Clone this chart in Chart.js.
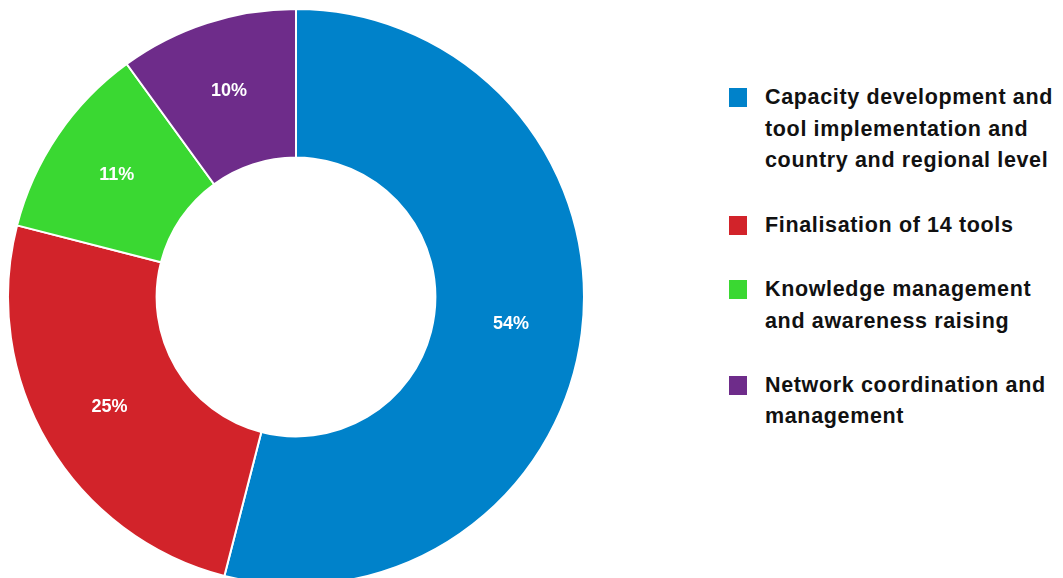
<!DOCTYPE html>
<html>
<head>
<meta charset="utf-8">
<script src="https://cdn.jsdelivr.net/npm/chart.js@4.4.1/dist/chart.umd.min.js"></script>
<style>
  html, body { margin: 0; padding: 0; background: #fff; width: 1063px; height: 578px; overflow: hidden; }
  #wrap { position: absolute; left: 7px; top: 8px; width: 578px; height: 578px; }
  #legend { position: absolute; left: 728px; top: 82px; font-family: "Liberation Sans", Arial, sans-serif; font-weight: bold; font-size: 21.5px; letter-spacing: 0.65px; color: #111; white-space: nowrap; }
  .item { position: relative; padding-left: 37px; line-height: 31.7px; margin-bottom: 32.5px; }
  .sw { position: absolute; left: 1px; top: 6px; width: 18px; height: 19px; }
</style>
</head>
<body>
<div id="wrap"><canvas id="c"></canvas></div>
<div id="legend"></div>
<script>
const categories = [
  ["Capacity development and", "tool implementation and", "country and regional level"],
  ["Finalisation of 14 tools"],
  ["Knowledge management", "and awareness raising"],
  ["Network coordination and", "management"]
];
const values = [54, 25, 11, 10];
const colors = ["#0082CA", "#D2232A", "#3AD832", "#6E2C8A"];

const pctLabels = {
  id: 'pctLabels',
  afterDatasetsDraw(chart) {
    const ctx = chart.ctx;
    const meta = chart.getDatasetMeta(0);
    ctx.save();
    ctx.fillStyle = '#fff';
    ctx.font = 'bold 18px "Liberation Sans", Arial, sans-serif';
    ctx.textAlign = 'center';
    ctx.textBaseline = 'middle';
    meta.data.forEach((arc, i) => {
      const a = (arc.startAngle + arc.endAngle) / 2;
      const r = (arc.innerRadius + arc.outerRadius) / 2 + 3;
      ctx.fillText(values[i] + '%', arc.x + Math.cos(a) * r, arc.y + Math.sin(a) * r);
    });
    ctx.restore();
  }
};

new Chart(document.getElementById('c'), {
  type: 'doughnut',
  data: {
    labels: categories.map(l => l.join(' ')),
    datasets: [{
      data: values,
      backgroundColor: colors,
      borderColor: '#fff',
      borderWidth: 2
    }]
  },
  options: {
    responsive: true,
    maintainAspectRatio: false,
    animation: false,
    cutout: '48.4%',
    layout: { padding: 0 },
    plugins: { legend: { display: false }, tooltip: { enabled: false } }
  },
  plugins: [pctLabels]
});

const lg = document.getElementById('legend');
categories.forEach((lines, i) => {
  const d = document.createElement('div');
  d.className = 'item';
  const s = document.createElement('span');
  s.className = 'sw';
  s.style.background = colors[i];
  d.appendChild(s);
  lines.forEach((t, j) => {
    if (j) d.appendChild(document.createElement('br'));
    d.appendChild(document.createTextNode(t));
  });
  lg.appendChild(d);
});
</script>
</body>
</html>
